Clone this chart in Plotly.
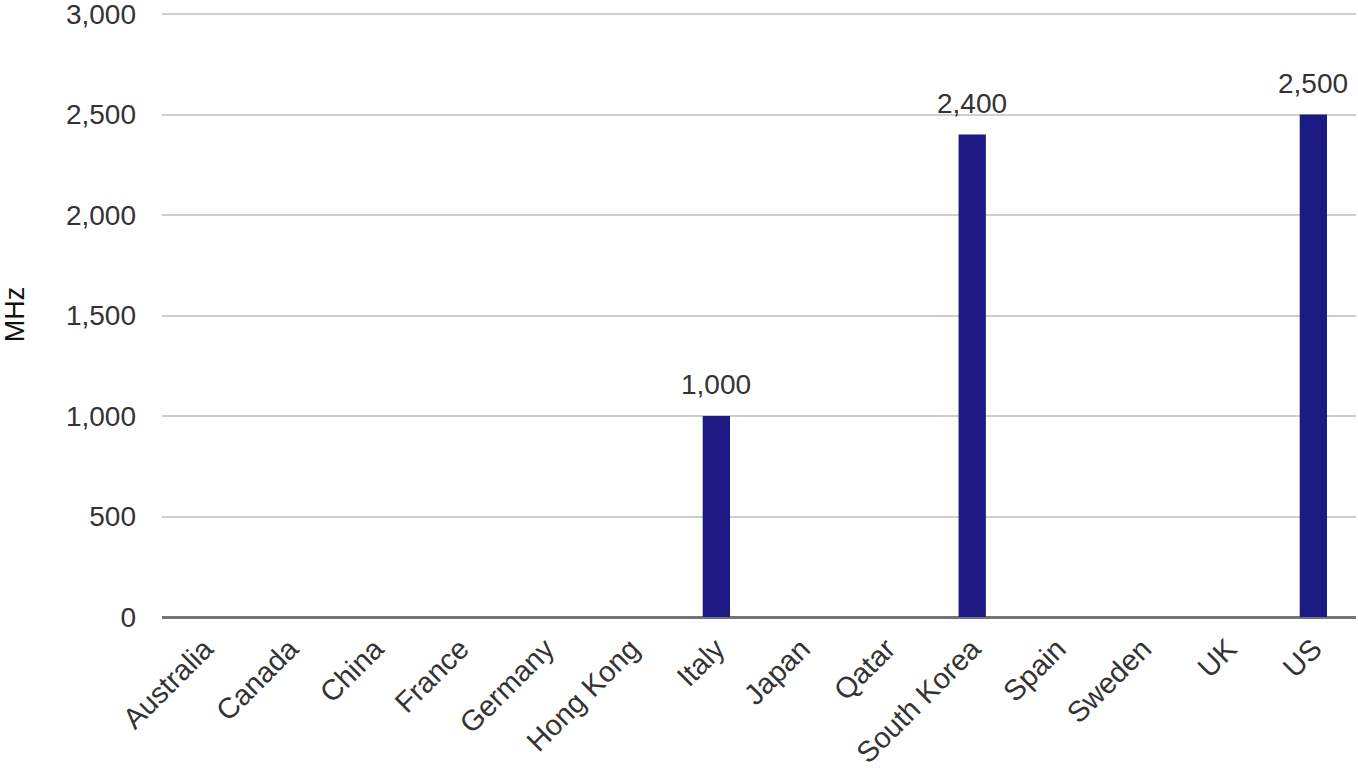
import plotly.graph_objects as go

countries = ["Australia", "Canada", "China", "France", "Germany", "Hong Kong", "Italy",
             "Japan", "Qatar", "South Korea", "Spain", "Sweden", "UK", "US"]
mhz = [0, 0, 0, 0, 0, 0, 1000, 0, 0, 2400, 0, 0, 0, 2500]

FONT = "Liberation Sans, Arial, sans-serif"
TXT = "#333333"

fig = go.Figure(go.Bar(
    x=countries, y=mhz,
    marker=dict(color="#1b1a82", line=dict(width=0)),
    cliponaxis=False,
))

for c, v in zip(countries, mhz):
    if v:
        fig.add_annotation(x=c, y=v, text=f"{v:,}", showarrow=False,
                           yanchor="bottom", yshift=14,
                           font=dict(size=28, color=TXT, family=FONT))

fig.update_layout(
    width=1358, height=774,
    margin=dict(l=162, r=2, t=12, b=157),
    paper_bgcolor="white", plot_bgcolor="white",
    bargap=0.68,
    font=dict(family=FONT, size=28, color=TXT),
    showlegend=False,
)
fig.update_xaxes(
    tickangle=-45, tickfont=dict(size=29, color=TXT),
    showgrid=False, showline=False, ticks="", automargin=False,
    ticklabelstandoff=8,
)
fig.update_yaxes(
    range=[0, 3010], tickvals=[0, 500, 1000, 1500, 2000, 2500, 3000],
    tickformat=",d", tickfont=dict(size=28, color=TXT),
    showgrid=True, gridcolor="#c9d0d0", gridwidth=2,
    zeroline=True, zerolinecolor="#707575", zerolinewidth=3,
    ticklabelstandoff=25, automargin=False, ticklabeloverflow="allow",
    title=dict(text="MHz", font=dict(size=27, color="#111111"), standoff=35),
)

fig.write_html("out.html", config={"displayModeBar": False},
               post_script="document.body.style.margin='0';document.body.style.padding='0';")
